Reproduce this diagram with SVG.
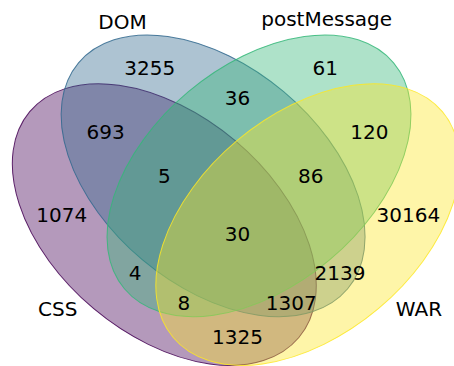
<svg xmlns="http://www.w3.org/2000/svg" width="454" height="366" viewBox="0 0 454 366">
<style>
.s{fill-opacity:0.4;stroke-width:1;stroke-opacity:0.85}
text{font-family:"DejaVu Sans",sans-serif;font-size:20px;fill:#000;text-anchor:middle}
</style>
<rect width="454" height="366" fill="#fff"/>
<g id="CSS"><ellipse class="s" cx="164.3" cy="224.6" rx="175.7" ry="109.8" transform="rotate(-140 164.3 224.6)" fill="#440154" stroke="#440154"/></g>
<g id="DOM"><ellipse class="s" cx="213.1" cy="175.8" rx="175.7" ry="109.8" transform="rotate(-140 213.1 175.8)" fill="#31688e" stroke="#31688e"/></g>
<g id="postMessage"><ellipse class="s" cx="259.0" cy="175.8" rx="175.7" ry="109.8" transform="rotate(-40 259.0 175.8)" fill="#35b779" stroke="#35b779"/></g>
<g id="WAR"><ellipse class="s" cx="307.8" cy="224.6" rx="175.7" ry="109.8" transform="rotate(-40 307.8 224.6)" fill="#fde725" stroke="#fde725"/></g>
<g id="connectors"></g>
<g id="labels" dominant-baseline="central">
<text x="61.8" y="214.8">1074</text>
<text x="149.7" y="68.4">3255</text>
<text x="325.3" y="68.4">61</text>
<text x="408.3" y="214.8">30164</text>
<text x="105.7" y="131.9">693</text>
<text x="369.3" y="131.9">120</text>
<text x="237.5" y="97.7">36</text>
<text x="135.0" y="273.4">4</text>
<text x="340.0" y="273.4">2139</text>
<text x="237.5" y="336.8">1325</text>
<text x="164.3" y="175.8">5</text>
<text x="310.7" y="175.8">86</text>
<text x="183.8" y="302.7">8</text>
<text x="291.2" y="302.7">1307</text>
<text x="237.5" y="234.4">30</text>
</g>
<g id="setlabels">
<text x="122.5" y="29">DOM</text>
<text x="326.7" y="26">postMessage</text>
<text x="57.8" y="315.7">CSS</text>
<text x="419" y="315.7">WAR</text>
</g>
</svg>
